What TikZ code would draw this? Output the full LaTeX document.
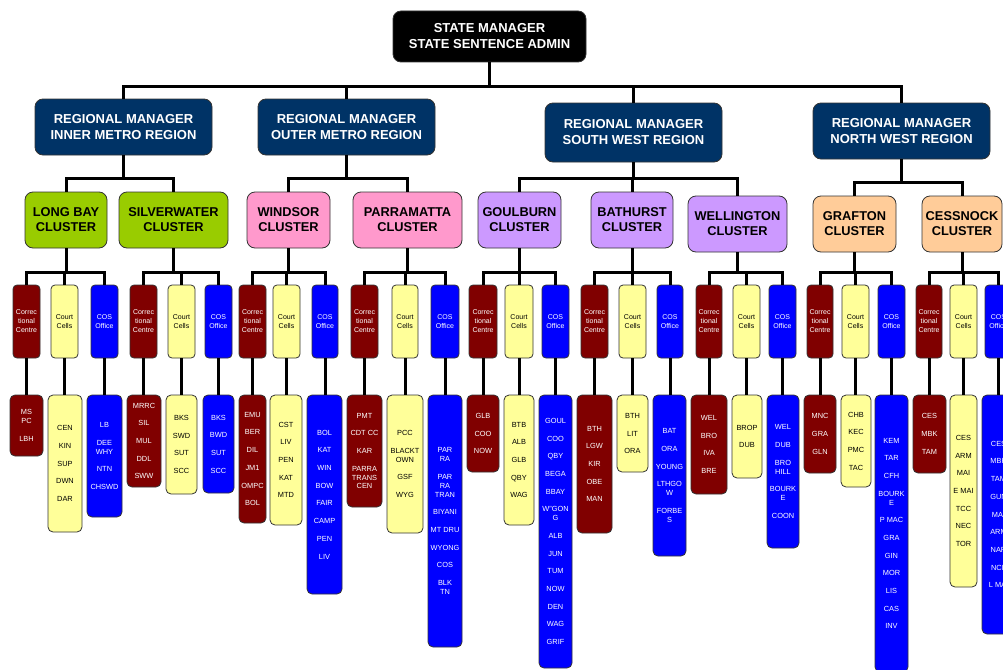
\documentclass[tikz,border=0pt]{standalone}
\usepackage{fontspec}
\setmainfont{Liberation Sans}

\definecolor{clNavy}{RGB}{0,51,102}
\definecolor{clLime}{RGB}{153,204,0}
\definecolor{clPink}{RGB}{255,153,204}
\definecolor{clLilac}{RGB}{204,153,255}
\definecolor{clPeach}{RGB}{255,204,153}
\definecolor{clMaroon}{RGB}{128,0,0}
\definecolor{clYellow}{RGB}{255,255,153}
\definecolor{clBlue}{RGB}{0,0,255}

\tikzset{
  base/.style={draw=black!80, line width=0.8pt, inner sep=0pt, align=center},
  topbox/.style={base, fill=black, text=white, rounded corners=8pt,
    font=\bfseries\fontsize{13}{16}\selectfont},
  regbox/.style={base, fill=clNavy, text=white, rounded corners=8pt,
    font=\bfseries\fontsize{13}{16}\selectfont},
  clubox/.style={base, text=black, rounded corners=8pt,
    font=\bfseries\fontsize{12.8}{15}\selectfont},
  kindbox/.style={base, rounded corners=4pt, font=\fontsize{7}{9}\selectfont},
  listbox/.style={base, rounded corners=5pt, font=\fontsize{7.4}{8.85}\selectfont},
  ccfill/.style={fill=clMaroon, text=white},
  cellfill/.style={fill=clYellow, text=black},
  cosfill/.style={fill=clBlue, text=white},
  conn/.style={line width=3pt, draw=black},
}

% box from left/right x and top/bottom y
\newcommand\boxat[7]{%
  \node[#2, minimum width={(#4)-(#3)}, minimum height={(#6)-(#5)}]
    (#1) at ({((#3)+(#4))/2},{((#5)+(#6))/2}) {#7};}
% elbow connector through a bus at height #2
\newcommand\fork[3]{%
  \coordinate (busy) at (0,#2);
  \draw[conn] (#1.south) -- (#1.south |- busy) -| (#3.north);}
% straight drop from a unit box to its list
\newcommand\drop[2]{\draw[conn] (#1.south) -- (#1.south |- #2.north);}
\newcommand\nx{\\[8.85pt]}
\newcommand\kCC{Correc\\tional\\Centre}
\newcommand\kCt{Court\\Cells}
\newcommand\kCos{COS\\Office}

\begin{document}
\begin{tikzpicture}[x=1pt,y=-1pt]
\useasboundingbox (0,0) rectangle (1003,669);

% head office and regions
\boxat{sm}{topbox}{393}{586}{11}{62}{STATE MANAGER\\STATE SENTENCE ADMIN}
\boxat{rInner}{regbox}{35}{212}{99}{155}{REGIONAL MANAGER\\INNER METRO REGION}
\boxat{rOuter}{regbox}{258}{435}{99}{155}{REGIONAL MANAGER\\OUTER METRO REGION}
\boxat{rSW}{regbox}{545}{722}{103}{162}{REGIONAL MANAGER\\SOUTH WEST REGION}
\boxat{rNW}{regbox}{813}{990}{103}{159}{REGIONAL MANAGER\\NORTH WEST REGION}

% clusters
\boxat{cLongBay}{clubox,fill=clLime}{25}{107}{192}{248}{LONG BAY\\CLUSTER}
\boxat{cSilver}{clubox,fill=clLime}{119}{228}{192}{248}{SILVERWATER\\CLUSTER}
\boxat{cWindsor}{clubox,fill=clPink}{247}{330}{192}{248}{WINDSOR\\CLUSTER}
\boxat{cParra}{clubox,fill=clPink}{353}{462}{192}{248}{PARRAMATTA\\CLUSTER}
\boxat{cGoul}{clubox,fill=clLilac}{478}{561}{192}{248}{GOULBURN\\CLUSTER}
\boxat{cBath}{clubox,fill=clLilac}{591}{673}{192}{248}{BATHURST\\CLUSTER}
\boxat{cWell}{clubox,fill=clLilac}{688}{787}{196}{252}{WELLINGTON\\CLUSTER}
\boxat{cGraf}{clubox,fill=clPeach}{813}{896}{196}{252}{GRAFTON\\CLUSTER}
\boxat{cCess}{clubox,fill=clPeach}{922}{1002}{196}{252}{CESSNOCK\\CLUSTER}

% unit boxes under each cluster
\boxat{tLongBayCC}{kindbox,ccfill}{13}{40}{285}{358}{\kCC}
\boxat{tLongBayCt}{kindbox,cellfill}{51}{78}{285}{358}{\kCt}
\boxat{tLongBayCos}{kindbox,cosfill}{91}{118}{285}{358}{\kCos}
\boxat{tSilverCC}{kindbox,ccfill}{130}{157}{285}{358}{\kCC}
\boxat{tSilverCt}{kindbox,cellfill}{168}{195}{285}{358}{\kCt}
\boxat{tSilverCos}{kindbox,cosfill}{205}{232}{285}{358}{\kCos}
\boxat{tWindsorCC}{kindbox,ccfill}{239}{266}{285}{358}{\kCC}
\boxat{tWindsorCt}{kindbox,cellfill}{273}{300}{285}{358}{\kCt}
\boxat{tWindsorCos}{kindbox,cosfill}{312}{338}{285}{358}{\kCos}
\boxat{tParraCC}{kindbox,ccfill}{351}{378}{285}{358}{\kCC}
\boxat{tParraCt}{kindbox,cellfill}{392}{418}{285}{358}{\kCt}
\boxat{tParraCos}{kindbox,cosfill}{431}{459}{285}{358}{\kCos}
\boxat{tGoulCC}{kindbox,ccfill}{469}{497}{285}{358}{\kCC}
\boxat{tGoulCt}{kindbox,cellfill}{505}{533}{285}{358}{\kCt}
\boxat{tGoulCos}{kindbox,cosfill}{542}{569}{285}{358}{\kCos}
\boxat{tBathCC}{kindbox,ccfill}{581}{608}{285}{358}{\kCC}
\boxat{tBathCt}{kindbox,cellfill}{619}{646}{285}{358}{\kCt}
\boxat{tBathCos}{kindbox,cosfill}{657}{683}{285}{358}{\kCos}
\boxat{tWellCC}{kindbox,ccfill}{696}{722}{285}{358}{\kCC}
\boxat{tWellCt}{kindbox,cellfill}{733}{760}{285}{358}{\kCt}
\boxat{tWellCos}{kindbox,cosfill}{769}{796}{285}{358}{\kCos}
\boxat{tGrafCC}{kindbox,ccfill}{807}{833}{285}{358}{\kCC}
\boxat{tGrafCt}{kindbox,cellfill}{842}{869}{285}{358}{\kCt}
\boxat{tGrafCos}{kindbox,cosfill}{878}{905}{285}{358}{\kCos}
\boxat{tCessCC}{kindbox,ccfill}{916}{942}{285}{358}{\kCC}
\boxat{tCessCt}{kindbox,cellfill}{950}{977}{285}{358}{\kCt}
\boxat{tCessCos}{kindbox,cosfill}{985}{1012}{285}{358}{\kCos}

% location lists
\boxat{lLongBayCC}{listbox,ccfill}{10}{43}{395}{456}{MS\\PC\nx LBH}
\boxat{lLongBayCt}{listbox,cellfill}{48}{82}{395}{532}{CEN\nx KIN\nx SUP\nx DWN\nx DAR}
\boxat{lLongBayCos}{listbox,cosfill}{87}{122}{395}{517}{LB\nx DEE\\WHY\nx NTN\nx CHSWD}
\boxat{lSilverCC}{listbox,ccfill}{127}{161}{395}{487}{MRRC\nx SIL\nx MUL\nx DDL\nx SWW}
\boxat{lSilverCt}{listbox,cellfill}{166}{197}{395}{494}{BKS\nx SWD\nx SUT\nx SCC}
\boxat{lSilverCos}{listbox,cosfill}{203}{234}{395}{493}{BKS\nx BWD\nx SUT\nx SCC}
\boxat{lWindsorCC}{listbox,ccfill}{239}{266}{395}{523}{EMU\nx BER\nx DIL\nx JM1\nx OMPC\nx BOL}
\boxat{lWindsorCt}{listbox,cellfill}{270}{302}{395}{525}{CST\nx LIV\nx PEN\nx KAT\nx MTD}
\boxat{lWindsorCos}{listbox,cosfill}{307}{342}{395}{594}{BOL\nx KAT\nx WIN\nx BOW\nx FAIR\nx CAMP\nx PEN\nx LIV}
\boxat{lParraCC}{listbox,ccfill}{347}{382}{395}{507}{PMT\nx CDT CC\nx KAR\nx PARRA\\TRANS\\CEN}
\boxat{lParraCt}{listbox,cellfill}{387}{423}{395}{533}{PCC\nx BLACKT\\OWN\nx GSF\nx WYG}
\boxat{lParraCos}{listbox,cosfill}{428}{462}{395}{647}{PAR\\RA\nx PAR\\RA\\TRAN\nx BIYANI\nx MT DRU\nx WYONG\nx COS\nx BLK\\TN}
\boxat{lGoulCC}{listbox,ccfill}{467}{499}{395}{472}{GLB\nx COO\nx NOW}
\boxat{lGoulCt}{listbox,cellfill}{504}{534}{395}{525}{BTB\nx ALB\nx GLB\nx QBY\nx WAG}
\boxat{lGoulCos}{listbox,cosfill}{539}{572}{395}{668}{GOUL\nx COO\nx QBY\nx BEGA\nx BBAY\nx W"GON\\G\nx ALB\nx JUN\nx TUM\nx NOW\nx DEN\nx WAG\nx GRIF}
\boxat{lBathCC}{listbox,ccfill}{577}{612}{395}{533}{BTH\nx LGW\nx KIR\nx OBE\nx MAN}
\boxat{lBathCt}{listbox,cellfill}{617}{648}{395}{472}{BTH\nx LIT\nx ORA}
\boxat{lBathCos}{listbox,cosfill}{653}{686}{395}{556}{BAT\nx ORA\nx YOUNG\nx LTHGO\\W\nx FORBE\\S}
\boxat{lWellCC}{listbox,ccfill}{691}{727}{395}{494}{WEL\nx BRO\nx IVA\nx BRE}
\boxat{lWellCt}{listbox,cellfill}{732}{762}{395}{478}{BROP\nx DUB}
\boxat{lWellCos}{listbox,cosfill}{767}{799}{395}{548}{WEL\nx DUB\nx BRO\\HILL\nx BOURK\\E\nx COON}
\boxat{lGrafCC}{listbox,ccfill}{804}{836}{395}{473}{MNC\nx GRA\nx GLN}
\boxat{lGrafCt}{listbox,cellfill}{841}{871}{395}{487}{CHB\nx KEC\nx PMC\nx TAC}
\boxat{lGrafCos}{listbox,cosfill}{875}{908}{395}{672}{KEM\nx TAR\nx CFH\nx BOURK\\E\nx P MAC\nx GRA\nx GIN\nx MOR\nx LIS\nx CAS\nx INV}
\boxat{lCessCC}{listbox,ccfill}{913}{946}{395}{473}{CES\nx MBK\nx TAM}
\boxat{lCessCt}{listbox,cellfill}{950}{977}{395}{587}{CES\nx ARM\nx MAI\nx E MAI\nx TCC\nx NEC\nx TOR}
\boxat{lCessCos}{listbox,cosfill}{982}{1015}{395}{634}{CES\nx MBK\nx TAM\nx GUN\nx MAI\nx ARM\nx NAR\nx NCL\nx L MAI}

% state manager to regions
\foreach \r in {rInner,rOuter,rSW,rNW} {\fork{sm}{86}{\r}}
% regions to clusters
\foreach \c in {cLongBay,cSilver} {\fork{rInner}{178}{\c}}
\foreach \c in {cWindsor,cParra} {\fork{rOuter}{178}{\c}}
\foreach \c in {cGoul,cBath,cWell} {\fork{rSW}{178}{\c}}
\foreach \c in {cGraf,cCess} {\fork{rNW}{182}{\c}}
% clusters to units, units to lists
\foreach \k in {LongBay,Silver,Windsor,Parra,Goul,Bath,Well,Graf,Cess} {
  \foreach \u in {CC,Ct,Cos} {
    \fork{c\k}{272}{t\k\u}
    \drop{t\k\u}{l\k\u}
  }
}
\end{tikzpicture}
\end{document}
